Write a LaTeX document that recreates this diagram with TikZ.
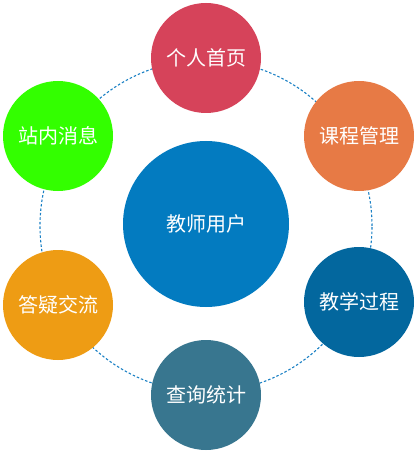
\documentclass[tikz,border=0pt]{standalone}
\usepackage{fontspec}
\newfontfamily\cjk{Noto Sans CJK SC}
\definecolor{cTop}{HTML}{D6435A}
\definecolor{cGreen}{HTML}{33FF00}
\definecolor{cOrange}{HTML}{E77A45}
\definecolor{cCenter}{HTML}{037BC0}
\definecolor{cAmber}{HTML}{EE9C14}
\definecolor{cNavy}{HTML}{03679E}
\definecolor{cTeal}{HTML}{38768F}
\definecolor{cRing}{HTML}{1A80C4}
\begin{document}
\begin{tikzpicture}[x=1pt,y=-1pt,
  bubble/.style={circle,minimum size=110pt,inner sep=0pt,text=white,font=\cjk\fontsize{20}{24}\selectfont},
  ring/.style={draw=cRing,line width=1.1pt,dash pattern=on 2.5pt off 2pt}]
\useasboundingbox (0,0) rectangle (417,454);
\coordinate (o) at (206,226);
\draw[ring] (o) circle[radius=166pt];
\node[bubble,fill=cCenter,minimum size=166pt] (center) at (206,224) {教师用户};
\node[bubble,fill=cTop] (top) at (206,58) {个人首页};
\node[bubble,fill=cOrange] (course) at (359,136) {课程管理};
\node[bubble,fill=cNavy] (teach) at (359,302) {教学过程};
\node[bubble,fill=cTeal] (query) at (206,395) {查询统计};
\node[bubble,fill=cAmber] (qa) at (58,305) {答疑交流};
\node[bubble,fill=cGreen] (msg) at (58,136) {站内消息};
\end{tikzpicture}
\end{document}
